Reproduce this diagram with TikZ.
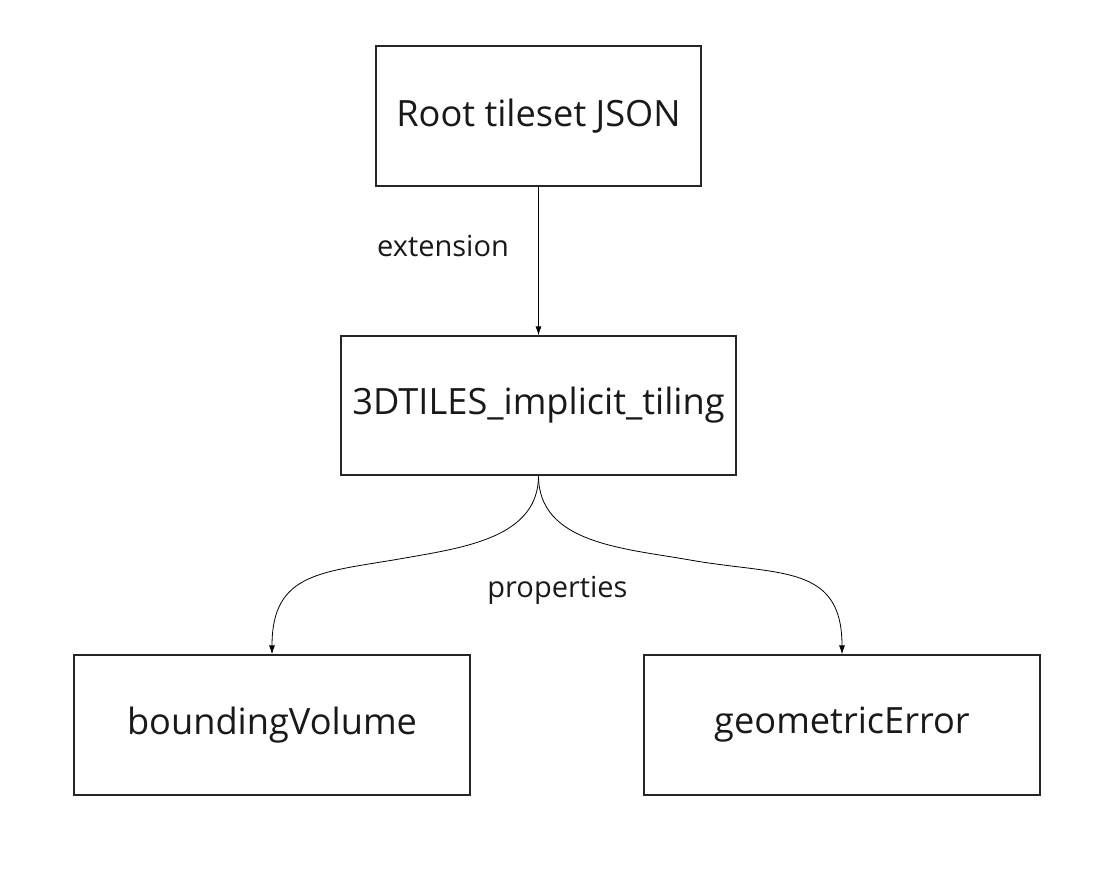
\documentclass[tikz,border=0pt]{standalone}
\usepackage{fontspec}
\setmainfont{Open Sans}
\usepackage{tikz}
\usetikzlibrary{arrows.meta, positioning}

\tikzset{
  tilebox/.style={draw=black!85, line width=1.3pt, minimum width=#1, minimum height=140pt, inner sep=0pt, font=\fontsize{36.2}{43}\selectfont, text=black!90},
  tilebox/.default=396pt,
  link/.style={line width=0.8pt, -{Latex[length=9pt, width=6pt]}},
  linklabel/.style={font=\fontsize{29}{35}\selectfont, text=black!90}
}

\begin{document}
\begin{tikzpicture}[x=1pt, y=-1pt]
    \useasboundingbox (0,0) rectangle (1118,893);
    \node[tilebox=325pt] (root) at (538.5,116) {Root tileset JSON};
    \node[tilebox=395pt, minimum height=139pt] (implicit) at (538.5,405.5) {3DTILES\_implicit\_tiling};
    \node[tilebox] (volume) at (272,725) {boundingVolume};
    \node[tilebox] (error) at (842,725) {geometricError};

    % bends of the two property links
    \coordinate (leftbend) at (405,558);
    \coordinate (rightbend) at (690,560);

    \draw[link] (root.south) -- (implicit.north);
    \draw[link] (implicit.south) to[out=-90, in=10] (leftbend) to[out=190, in=90, looseness=1.3] (volume.north);
    \draw[link] (implicit.south) to[out=-90, in=170] (rightbend) to[out=-10, in=90, looseness=1.3] (error.north);

    \node[linklabel] (ext) at (443,246) {extension};
    \node[linklabel] (props) at (557.5,590) {properties};
  \end{tikzpicture}
\end{document}
